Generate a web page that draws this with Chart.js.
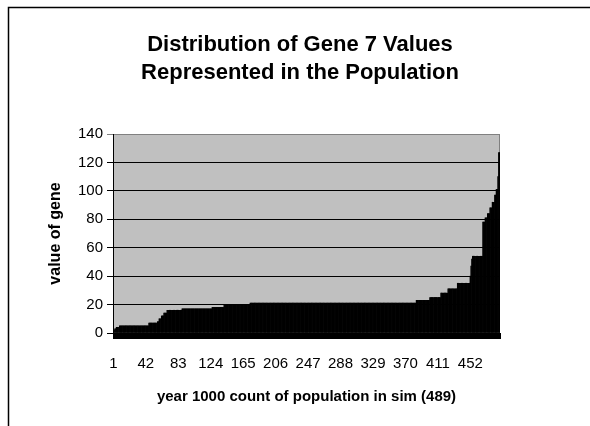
<!DOCTYPE html>
<html>
<head>
<meta charset="utf-8">
<script src="https://cdn.jsdelivr.net/npm/chart.js@4/dist/chart.umd.min.js"></script>
<style>
  html, body { margin: 0; padding: 0; background: #fff; }
  #wrap { width: 590px; height: 426px; }
</style>
</head>
<body>
<div id="wrap"><canvas id="geneChart" width="590" height="426"></canvas></div>
<script>
// Gene 7 values of the 489 individuals, sorted, stored as runs:
// runValues[i] repeated runCounts[i] times
const runValues = [1, 2, 3, 4, 5, 7, 8, 10, 12, 14, 16, 17, 18, 20, 21, 23, 25, 28, 31, 35,
                   40, 47, 52, 54, 78, 81, 84, 88, 92, 97, 101, 110, 127];
const runCounts = [1, 1, 2, 4, 37, 11, 2, 3, 3, 4, 19, 38, 15, 33, 210, 17, 14, 9, 12, 16,
                   1, 1, 1, 13, 3, 3, 3, 3, 3, 2, 2, 1, 2];
const xTickLabels = ['1', '42', '83', '124', '165', '206', '247', '288', '329', '370', '411', '452'];
const yMin = 0;
const yMax = 140;
const yStep = 20;

const chartTitle = ['Distribution of Gene 7 Values', 'Represented in the Population'];
const xTitle = 'year 1000 count of population in sim (489)';
const yTitle = 'value of gene';

// expand the runs into one value per individual
const geneValues = [];
runValues.forEach((v, i) => {
    for (let k = 0; k < runCounts[i]; k++) geneValues.push(v);
});
const labels = geneValues.map((v, i) => String(i + 1));

const FONT = 'Arial, "Liberation Sans", sans-serif';

// grey plot area, outer frame and two line title
const frame = {
    id: 'frame',
    beforeDraw(chart) {
        const { ctx, chartArea: a } = chart;
        ctx.save();
        ctx.fillStyle = '#c0c0c0';
        ctx.fillRect(a.left, a.top, a.right - a.left, a.bottom - a.top);
        ctx.strokeStyle = '#808080';
        ctx.lineWidth = 1;
        ctx.beginPath();
        ctx.moveTo(a.right - 0.5, a.top);
        ctx.lineTo(a.right - 0.5, a.bottom);
        ctx.stroke();
        // chart border (runs off the right and bottom of the picture)
        ctx.strokeStyle = '#000';
        ctx.lineWidth = 1.5;
        ctx.beginPath();
        ctx.moveTo(8.5, 430);
        ctx.lineTo(8.5, 7.5);
        ctx.lineTo(600, 7.5);
        ctx.stroke();
        ctx.restore();
    },
    afterDraw(chart) {
        const { ctx } = chart;
        ctx.save();
        ctx.fillStyle = '#000';
        ctx.font = 'bold 22px ' + FONT;
        ctx.textAlign = 'center';
        ctx.textBaseline = 'middle';
        ctx.fillText(chartTitle[0], 300, 45);
        ctx.fillText(chartTitle[1], 300, 73);
        ctx.restore();
    }
};

new Chart(document.getElementById('geneChart'), {
    type: 'bar',
    data: {
        labels: labels,
        datasets: [{
            data: geneValues,
            backgroundColor: '#000',
            borderWidth: 0,
            barPercentage: 1,
            categoryPercentage: 1
        }]
    },
    options: {
        responsive: false,
        animation: false,
        layout: { padding: { left: 0, top: 134, right: 90, bottom: 0 } },
        plugins: {
            legend: { display: false },
            tooltip: { enabled: false }
        },
        scales: {
            x: {
                grid: { display: true, drawOnChartArea: false, offset: true, tickLength: 6, color: '#000' },
                border: { display: true, color: '#000' },
                ticks: {
                    autoSkip: false,
                    maxRotation: 0,
                    minRotation: 0,
                    padding: 16,
                    color: '#000',
                    font: { family: FONT, size: 15 },
                    callback: function (value, index) {
                        const lab = this.getLabelForValue(value);
                        return xTickLabels.includes(lab) ? lab : '';
                    }
                },
                title: {
                    display: true,
                    text: xTitle,
                    color: '#000',
                    font: { family: FONT, size: 15, weight: 'bold' },
                    padding: { top: 4, bottom: 20 }
                },
                afterFit: s => { s.height = 93; }
            },
            y: {
                min: yMin,
                max: yMax,
                grid: {
                    color: c => (c.tick && c.tick.value === yMax) ? '#808080' : '#000',
                    tickLength: 6
                },
                border: { display: true, color: '#000' },
                ticks: {
                    stepSize: yStep,
                    padding: 4,
                    color: '#000',
                    font: { family: FONT, size: 15 }
                },
                title: {
                    display: true,
                    text: yTitle,
                    color: '#000',
                    font: { family: FONT, size: 16, weight: 'bold' },
                    padding: { top: 46, bottom: 0 }
                },
                afterFit: s => { s.width = 113; }
            }
        }
    },
    plugins: [frame]
});
</script>
</body>
</html>
